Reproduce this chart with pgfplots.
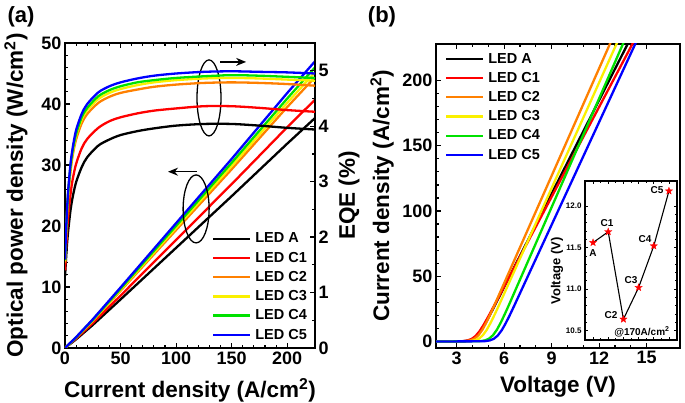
\documentclass[border=0pt]{standalone}
\usepackage{fontspec}
\setmainfont{Liberation Sans}
\usepackage{pgfplots}
\pgfplotsset{compat=1.18}
\usetikzlibrary{arrows.meta}
\definecolor{cA}{RGB}{0,0,0}
\definecolor{cC1}{RGB}{255,0,0}
\definecolor{cC2}{RGB}{255,128,0}
\definecolor{cC3}{RGB}{250,240,0}
\definecolor{cC4}{RGB}{0,225,0}
\definecolor{cC5}{RGB}{0,0,255}
\pgfdeclareplotmark{fstar}{%
  \pgfpathmoveto{\pgfpointpolar{90}{\pgfplotmarksize}}%
  \pgfpathlineto{\pgfpointpolar{126}{0.42\pgfplotmarksize}}%
  \pgfpathlineto{\pgfpointpolar{162}{\pgfplotmarksize}}%
  \pgfpathlineto{\pgfpointpolar{198}{0.42\pgfplotmarksize}}%
  \pgfpathlineto{\pgfpointpolar{234}{\pgfplotmarksize}}%
  \pgfpathlineto{\pgfpointpolar{270}{0.42\pgfplotmarksize}}%
  \pgfpathlineto{\pgfpointpolar{306}{\pgfplotmarksize}}%
  \pgfpathlineto{\pgfpointpolar{342}{0.42\pgfplotmarksize}}%
  \pgfpathlineto{\pgfpointpolar{18}{\pgfplotmarksize}}%
  \pgfpathlineto{\pgfpointpolar{54}{0.42\pgfplotmarksize}}%
  \pgfpathclose\pgfusepathqfillstroke}
\pgfplotsset{
  base/.style={
    scale only axis,
    axis line style={line width=1.5pt},
    every tick/.style={black, line width=1.2pt},
    major tick length=5pt, minor tick length=3pt,
    tick align=inside,
    /pgf/number format/assume math mode=true,
    tick label style={font=\fontsize{18}{18}\selectfont\bfseries},
    label style={font=\fontsize{22.5}{22.5}\selectfont\bfseries},
    legend style={draw=none, fill=none, inner sep=0pt, outer sep=0pt,
      font=\fontsize{14.5}{14.5}\selectfont\bfseries, row sep=7.6pt, column sep=4pt,
      nodes={inner sep=0pt}},
    legend cell align=left,
    legend image code/.code={\draw[##1] (0pt,0pt) -- (37pt,0pt);},
    every axis plot/.append style={line width=2.3pt},
  },
}
\begin{document}
\begin{tikzpicture}
\path[use as bounding box] (0pt,0pt) rectangle (685pt,403pt);
% ---------------- panel (a) left axis: optical power density
\begin{axis}[base, at={(65pt,55pt)}, anchor=south west, width=250pt, height=305pt,
  xmin=0, xmax=225, ymin=0, ymax=50,
  xtick={0,50,...,200}, ytick={0,10,...,50},
  minor x tick num=4, minor y tick num=4, ytick pos=left,
  xlabel={Current density (A/cm\textsuperscript{2})},
  ylabel={Optical power density (W/cm\textsuperscript{2})},
  xlabel style={at={(axis description cs:0.5,-0.138)}, anchor=center},
  ylabel style={at={(axis description cs:-0.196,0.5)}, anchor=center},
  legend style={at={(axis description cs:0.588,0.377)}, anchor=north west}]
\addplot[cA] coordinates {(0,0)(10,1.42)(25,3.77)(50,7.96)(100,16.42)(150,24.89)(200,33.5)(225,37.7)};
\addplot[cC1] coordinates {(0,0)(10,1.54)(25,4.07)(50,8.59)(100,17.73)(150,26.86)(200,36.2)(225,40.7)};
\addplot[cC2] coordinates {(0,0)(10,1.68)(25,4.44)(50,9.37)(100,19.34)(150,29.30)(200,39.5)(225,44.4)};
\addplot[cC3] coordinates {(0,0)(10,1.71)(25,4.52)(50,9.54)(100,19.69)(150,29.83)(200,40.2)(225,45.2)};
\addplot[cC4] coordinates {(0,0)(10,1.74)(25,4.60)(50,9.71)(100,20.03)(150,30.36)(200,40.9)(225,46.0)};
\addplot[cC5] coordinates {(0,0)(10,1.78)(25,4.70)(50,9.92)(100,20.47)(150,31.0)(200,41.8)(225,47.0)};
\legend{LED A, LED C1, LED C2, LED C3, LED C4, LED C5}
\draw[line width=1.3pt] (axis cs:129.6,41) ellipse [x radius=12pt, y radius=38pt];
\draw[line width=1.3pt,-{Stealth[length=10pt,width=8pt]}] (axis cs:139.5,46.9) -- (axis cs:163,46.9);
\draw[line width=1.3pt] (axis cs:118,22.8) ellipse [x radius=13pt, y radius=34pt];
\draw[line width=1.3pt,-{Stealth[length=10pt,width=8pt]}] (axis cs:119,28.9) -- (axis cs:92.7,28.9);
\end{axis}
% ---------------- panel (a) right axis: EQE
\begin{axis}[base, at={(65pt,55pt)}, anchor=south west, width=250pt, height=305pt,
  xmin=0, xmax=225, ymin=0, ymax=5.5,
  axis x line=none, axis y line*=right,
  ytick={0,1,...,5}, minor y tick num=1,
  ylabel={EQE (\%)},
  ylabel style={at={(axis description cs:1.136,0.5)}, anchor=center}]
\addplot[cA, smooth] coordinates {(0.1,1.30)(0.3,1.38)(1,1.63)(2,1.92)(3,2.14)(5,2.49)(7,2.73)(10,2.99)(15,3.26)(20,3.44)(30,3.65)(40,3.76)(50,3.84)(65,3.91)(80,3.96)(100,4.01)(125,4.04)(150,4.04)(175,4.01)(200,3.97)(225,3.94)};
\addplot[cC1, smooth] coordinates {(0.1,1.40)(0.3,1.50)(1,1.8)(2,2.14)(3,2.4)(5,2.78)(7,3.05)(10,3.32)(15,3.6)(20,3.77)(30,3.97)(40,4.09)(50,4.16)(65,4.23)(80,4.28)(100,4.32)(125,4.36)(150,4.36)(175,4.33)(200,4.29)(225,4.26)};
\addplot[cC2, smooth] coordinates {(0.1,1.54)(0.3,1.67)(1,2.05)(2,2.46)(3,2.76)(5,3.19)(7,3.48)(10,3.76)(15,4.05)(20,4.22)(30,4.42)(40,4.53)(50,4.6)(65,4.66)(80,4.71)(100,4.75)(125,4.78)(150,4.79)(175,4.78)(200,4.76)(225,4.73)};
\addplot[cC3, smooth] coordinates {(0.1,1.57)(0.3,1.70)(1,2.08)(2,2.5)(3,2.81)(5,3.24)(7,3.53)(10,3.83)(15,4.12)(20,4.29)(30,4.49)(40,4.6)(50,4.67)(65,4.74)(80,4.79)(100,4.83)(125,4.86)(150,4.87)(175,4.86)(200,4.84)(225,4.82)};
\addplot[cC4, smooth] coordinates {(0.1,1.58)(0.3,1.71)(1,2.10)(2,2.52)(3,2.84)(5,3.28)(7,3.57)(10,3.86)(15,4.16)(20,4.33)(30,4.54)(40,4.65)(50,4.72)(65,4.79)(80,4.83)(100,4.87)(125,4.9)(150,4.92)(175,4.91)(200,4.89)(225,4.87)};
\addplot[cC5, smooth] coordinates {(0.1,1.60)(0.3,1.74)(1,2.14)(2,2.56)(3,2.88)(5,3.33)(7,3.62)(10,3.93)(15,4.22)(20,4.40)(30,4.61)(40,4.72)(50,4.79)(65,4.86)(80,4.91)(100,4.95)(125,4.98)(150,4.99)(175,4.98)(200,4.97)(225,4.95)};
\end{axis}
% ---------------- panel (b): J-V
\begin{axis}[base, at={(436pt,55pt)}, anchor=south west, width=244pt, height=304pt,
  xmin=1.7, xmax=17.1, ymin=-5, ymax=228,
  xtick={3,6,...,15}, ytick={0,50,...,200},
  minor x tick num=2, minor y tick num=4, ytick pos=left,
  xlabel={Voltage (V)},
  ylabel={Current density (A/cm\textsuperscript{2})},
  xlabel style={at={(axis description cs:0.5,-0.128)}, anchor=center},
  ylabel style={at={(axis description cs:-0.221,0.5)}, anchor=center},
  legend style={at={(axis description cs:0.037,0.970)}, anchor=north west}]
\addplot[cA] coordinates {(1.7,0)(3.26,0.11)(3.51,0.29)(3.76,0.76)(4.01,1.87)(4.26,4.14)(4.51,7.85)(4.76,12.71)(5.01,18.21)(5.26,24.0)(14.09,235)};
\addplot[cC1] coordinates {(1.7,0)(3.18,0.10)(3.43,0.28)(3.68,0.73)(3.93,1.80)(4.18,3.99)(4.43,7.55)(4.68,12.23)(4.93,17.53)(5.18,23.1)(14.4,235)};
\addplot[cC2] coordinates {(1.7,0)(3.38,0.12)(3.63,0.34)(3.88,0.87)(4.13,2.15)(4.38,4.77)(4.63,9.03)(4.88,14.62)(5.13,20.96)(5.38,27.6)(12.93,235)};
\addplot[cC3] coordinates {(1.7,0)(3.65,0.12)(3.9,0.33)(4.15,0.86)(4.4,2.11)(4.65,4.68)(4.9,8.86)(5.15,14.36)(5.4,20.57)(5.65,27.12)(13.35,235)};
\addplot[cC4] coordinates {(1.7,0)(4.3,0.13)(4.55,0.34)(4.8,0.88)(5.05,2.18)(5.3,4.82)(5.55,9.13)(5.8,14.78)(6.05,21.18)(6.3,27.92)(13.75,235)};
\addplot[cC5] coordinates {(1.7,0)(4.6,0.12)(4.85,0.32)(5.1,0.83)(5.35,2.06)(5.6,4.56)(5.85,8.63)(6.1,13.98)(6.35,20.04)(6.6,26.42)(14.54,235)};
\legend{LED A, LED C1, LED C2, LED C3, LED C4, LED C5}
\end{axis}
% ---------------- inset
\begin{axis}[scale only axis, at={(585pt,63pt)}, anchor=south west, width=92pt, height=159pt,
  xmin=-0.53, xmax=5.53, ymin=10.39, ymax=12.30,
  axis background/.style={fill=white},
  axis line style={line width=1.2pt},
  every tick/.style={black, line width=0.8pt},
  major tick length=3pt, minor tick length=1.8pt, tick align=inside,
  xtick={0,1,...,5}, xticklabels={}, minor x tick num=1,
  ytick={10.5,11,11.5,12}, minor y tick num=4,
  /pgf/number format/assume math mode=true,
  yticklabel style={/pgf/number format/.cd, fixed, fixed zerofill, precision=1},
  tick label style={font=\fontsize{8}{8}\selectfont\bfseries},
  ylabel={Voltage (V)},
  ylabel style={font=\fontsize{13}{13}\selectfont\bfseries, at={(axis description cs:-0.304,0.434)}, anchor=center}]
\addplot[black, line width=1.1pt, mark=fstar, mark size=3.8pt, mark options={red, fill=red, line width=0.3pt}] coordinates {(0,11.56)(1,11.69)(2,10.64)(3,11.02)(4,11.52)(5,12.18)};
\begin{scope}[font=\fontsize{10}{10}\selectfont\bfseries]
\node at (axis cs:0,11.44) {A};
\node at (axis cs:0.92,11.80) {C1};
\node at (axis cs:1.18,10.69) {C2};
\node at (axis cs:2.5,11.11) {C3};
\node at (axis cs:3.42,11.60) {C4};
\node at (axis cs:4.21,12.19) {C5};
\node at (axis cs:3.22,10.49) {@170A/cm\textsuperscript{2}};
\end{scope}
\end{axis}
\node[font=\fontsize{22}{22}\selectfont\bfseries] at (21pt,386pt) {(a)};
\node[font=\fontsize{22}{22}\selectfont\bfseries] at (382pt,386pt) {(b)};
\end{tikzpicture}
\end{document}
